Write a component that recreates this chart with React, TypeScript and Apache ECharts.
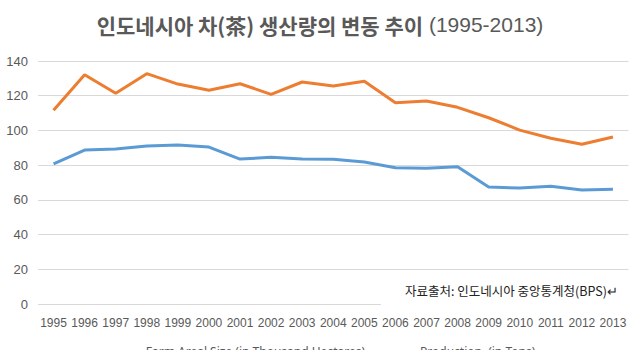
import React, { useEffect, useRef } from "react";
import * as echarts from "echarts";

const years = ["1995","1996","1997","1998","1999","2000","2001","2002","2003","2004","2005","2006","2007","2008","2009","2010","2011","2012","2013"];
const farmArea = [80.8, 88.7, 89.3, 91.0, 91.6, 90.4, 83.5, 84.5, 83.5, 83.4, 81.8, 78.5, 78.2, 79.1, 67.4, 66.8, 67.8, 65.7, 66.1];
const production = [111.6, 132.1, 121.4, 132.7, 126.7, 123.2, 126.9, 120.8, 127.9, 125.6, 128.3, 116.0, 117.0, 113.3, 107.3, 100.2, 95.5, 92.0, 96.2];
const yTicks = { min: 0, max: 140, interval: 20 };
const seriesNames = ["Farm Areal Size (in Thousand Hectares)", "Production  (in Tons)"];
const titleMain = "인도네시아 차(茶) 생산량의 변동 추이";
const titleYears = " (1995-2013)";
const sourceText = "자료출처: 인도네시아 중앙통계청(BPS)↵";

export default function App() {
  const ref = useRef<HTMLDivElement>(null);
  useEffect(() => {
    if (!ref.current) return;
    const chart = echarts.init(ref.current, null, { renderer: "svg" });
    const font = "'Noto Sans', 'Liberation Sans', sans-serif";
    chart.setOption({
      animation: false,
      backgroundColor: "#ffffff",
      title: {
        text: "{b|" + titleMain + "}{r|" + titleYears + "}",
        left: "center",
        top: 9,
        textStyle: {
          fontWeight: "normal",
          rich: {
            b: { fontFamily: "'Noto Sans CJK KR', sans-serif", fontSize: 21, fontWeight: "bold", color: "#595959" },
            r: { fontFamily: "'Liberation Sans', sans-serif", fontSize: 21, fontWeight: "normal", color: "#595959" },
          },
        },
      },
      grid: { left: 38, right: 11.5, top: 61, bottom: 46, containLabel: false },
      xAxis: {
        type: "category",
        data: years,
        boundaryGap: true,
        axisLine: { show: false },
        axisTick: { show: false },
        axisLabel: { color: "#595959", fontSize: 12, fontFamily: "'Liberation Sans', sans-serif", margin: 13, interval: 0 },
      },
      yAxis: {
        type: "value",
        min: yTicks.min,
        max: yTicks.max,
        interval: yTicks.interval,
        axisLine: { show: false },
        axisTick: { show: false },
        axisLabel: { color: "#595959", fontSize: 13, fontFamily: "'Liberation Sans', sans-serif", margin: 10 },
        splitLine: { lineStyle: { color: "#D9D9D9", width: 1 } },
      },
      legend: {
        top: 340,
        left: "center",
        itemWidth: 36,
        itemHeight: 14,
        itemGap: 14,
        icon: "path://M0,6h36v2h-36z",
        textStyle: { color: "#595959", fontSize: 12, fontFamily: font },
        data: seriesNames,
      },
      series: [
        {
          name: seriesNames[0],
          type: "line",
          data: farmArea,
          symbol: "none",
          lineStyle: { color: "#5B9BD5", width: 3 },
          itemStyle: { color: "#5B9BD5" },
        },
        {
          name: seriesNames[1],
          type: "line",
          data: production,
          symbol: "none",
          lineStyle: { color: "#ED7D31", width: 3 },
          itemStyle: { color: "#ED7D31" },
        },
      ],
      graphic: [
        {
          type: "rect",
          shape: { x: 381, y: 276, width: 259, height: 33 },
          style: { fill: "#ffffff" },
          z: 100,
        },
        {
          type: "text",
          x: 618,
          y: 290,
          z: 101,
          style: {
            text: sourceText,
            fill: "#222222",
            font: "12.5px 'Noto Sans CJK KR', sans-serif",
            align: "right",
            verticalAlign: "middle",
          },
        },
      ],
    });
    return () => chart.dispose();
  }, []);
  return <div ref={ref} style={{ width: 640, height: 350, position: "absolute", left: 0, top: 0 }} />;
}
